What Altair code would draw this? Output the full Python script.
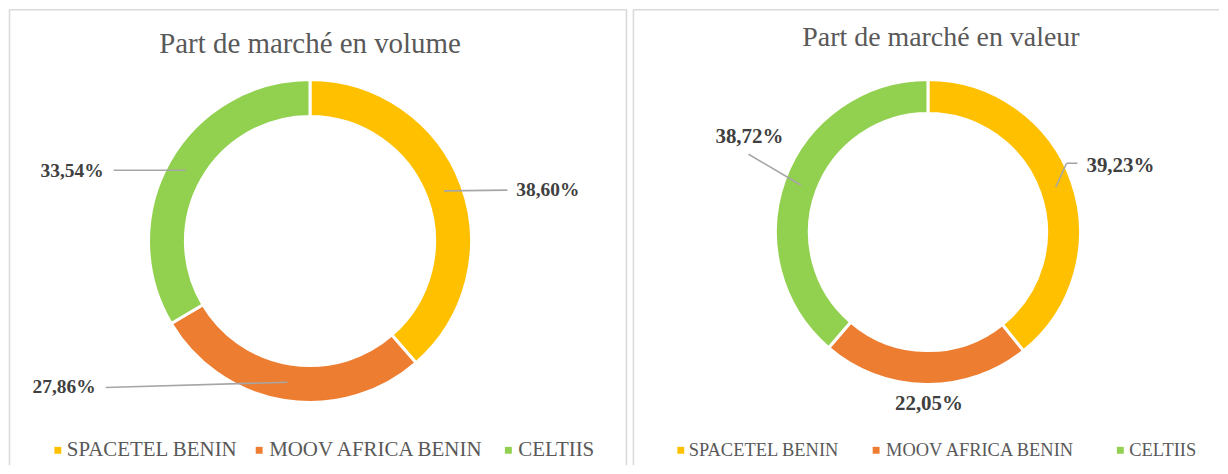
import math
import altair as alt
import pandas as pd

# ---------------- data ----------------
operators = ["SPACETEL BENIN", "MOOV AFRICA BENIN", "CELTIIS"]
volume_share = [38.60, 27.86, 33.54]
value_share = [39.23, 22.05, 38.72]
volume_labels = ["38,60%", "27,86%", "33,54%"]
value_labels = ["39,23%", "22,05%", "38,72%"]
titles = ["Part de marché en volume", "Part de marché en valeur"]

colors = ["#FFC000", "#ED7D31", "#92D050"]
SERIF = "Liberation Serif"
GRID = "#D9D9D9"
COLOR_SCALE = alt.Scale(domain=operators, range=colors)


def panel(values, labels, title, W, H, cx, cy, r_out, r_in, title_xy, title_size,
          label_size, label_layout, legend_cfg):
    total = sum(values)
    r_anchor = (r_out + r_in) / 2
    df = pd.DataFrame({"operator": operators, "value": values, "label": labels,
                       "idx": list(range(len(values)))})

    # anchors (slice mid-angle on the ring) computed from the data
    cum = 0.0
    anchors = []
    for v in values:
        mid = (cum + v / 2) / total * 2 * math.pi
        anchors.append((cx + r_anchor * math.sin(mid), cy - r_anchor * math.cos(mid)))
        cum += v

    seg_rows, txt_rows = [], []
    for i, op in enumerate(operators):
        lay = label_layout[op]
        txt_rows.append({"x": lay["x"], "y": lay["y"], "label": labels[i], "align": lay["align"]})
        pts = [anchors[i]] + lay["leader"]
        if lay["leader"]:
            for a, b in zip(pts[:-1], pts[1:]):
                seg_rows.append({"x": a[0], "y": a[1], "x2": b[0], "y2": b[1]})
    seg_df = pd.DataFrame(seg_rows)
    txt_df = pd.DataFrame(txt_rows)

    arcs = alt.Chart(df).mark_arc(innerRadius=r_in, outerRadius=r_out, stroke="white",
                                  strokeWidth=3).encode(
        theta=alt.Theta("value:Q", stack=True),
        order=alt.Order("idx:Q"),
        color=alt.Color("operator:N", sort=operators, scale=COLOR_SCALE, legend=None),
        x=alt.value(cx),
        y=alt.value(cy),
    )

    leaders = alt.Chart(seg_df).mark_rule(color="#A6A6A6", strokeWidth=1.6).encode(
        x=alt.X("x:Q", scale=None, axis=None),
        y=alt.Y("y:Q", scale=None, axis=None),
        x2="x2:Q",
        y2="y2:Q",
    )

    layers = [arcs, leaders]
    for al in ["left", "right", "center"]:
        sub = txt_df[txt_df["align"] == al]
        if len(sub) == 0:
            continue
        layers.append(
            alt.Chart(sub).mark_text(font=SERIF, fontSize=label_size, fontWeight="bold",
                                     color="#404040", align=al, baseline="middle").encode(
                x=alt.X("x:Q", scale=None, axis=None),
                y=alt.Y("y:Q", scale=None, axis=None),
                text="label:N",
            )
        )

    # legend (square swatch + label per operator)
    leg_df = pd.DataFrame({"operator": operators,
                           "mx": legend_cfg["marker_x"],
                           "tx": legend_cfg["text_x"],
                           "y": [legend_cfg["y"]] * len(operators)})
    swatches = alt.Chart(leg_df).mark_square(size=48, opacity=1).encode(
        x=alt.X("mx:Q", scale=None, axis=None),
        y=alt.Y("y:Q", scale=None, axis=None),
        color=alt.Color("operator:N", sort=operators, scale=COLOR_SCALE, legend=None),
    )
    leg_text = alt.Chart(leg_df).mark_text(font=SERIF, fontSize=legend_cfg["size"],
                                           color="#595959",
                                           align="left", baseline="middle").encode(
        x=alt.X("tx:Q", scale=None, axis=None),
        y=alt.Y("y:Q", scale=None, axis=None),
        text="operator:N",
    )
    layers += [swatches, leg_text]

    title_layer = alt.Chart(pd.DataFrame({"t": [title]})).mark_text(
        font=SERIF, fontSize=title_size, color="#595959", align="center",
        baseline="alphabetic").encode(
        x=alt.value(title_xy[0]), y=alt.value(title_xy[1]), text="t:N")
    layers.append(title_layer)

    return alt.layer(*layers).properties(width=W, height=H)


H = 458

left = panel(
    volume_share, volume_labels, titles[0], 620, H,
    cx=302, cy=233, r_out=162, r_in=125,
    title_xy=(302, 44), title_size=29, label_size=19.5,
    label_layout={
        "SPACETEL BENIN": {"x": 509, "y": 182, "align": "left", "leader": [(500, 182)]},
        "MOOV AFRICA BENIN": {"x": 87, "y": 380, "align": "right", "leader": [(97, 380)]},
        "CELTIIS": {"x": 95, "y": 163, "align": "right", "leader": [(105, 162)]},
    },
    legend_cfg={"marker_x": [49, 251, 501], "text_x": [58, 261, 511], "y": 443,
                "size": 21},
)

right = panel(
    value_share, value_labels, titles[1], 588, H,
    cx=296, cy=224, r_out=153, r_in=119,
    title_xy=(309, 37), title_size=28, label_size=21,
    label_layout={
        "SPACETEL BENIN": {"x": 455, "y": 158, "align": "left",
                           "leader": [(435, 155), (446, 155)]},
        "MOOV AFRICA BENIN": {"x": 297, "y": 397, "align": "center", "leader": []},
        "CELTIIS": {"x": 151, "y": 129, "align": "right", "leader": [(116, 146)]},
    },
    legend_cfg={"marker_x": [48, 244, 489], "text_x": [56, 254, 498], "y": 443,
                "size": 18.5},
)


def borders(W, right_edge):
    rows = [{"x": 0.5, "y": 1, "x2": 0.5, "y2": H},
            {"x": 0.5, "y": 1, "x2": W, "y2": 1}]
    if right_edge:
        rows.append({"x": W - 0.5, "y": 1, "x2": W - 0.5, "y2": H})
    return alt.Chart(pd.DataFrame(rows)).mark_rule(color=GRID, strokeWidth=1.5).encode(
        x=alt.X("x:Q", scale=None, axis=None), y=alt.Y("y:Q", scale=None, axis=None),
        x2="x2:Q", y2="y2:Q")


left_full = alt.layer(borders(620, True), left).properties(width=620, height=H)
right_full = alt.layer(borders(588, False), right).properties(width=588, height=H)

chart = alt.hconcat(left_full, right_full, spacing=4).properties(
    padding=0, background="white"
).configure_view(stroke=None)

chart.save("out.html", embed_options={"renderer": "svg", "actions": False})
